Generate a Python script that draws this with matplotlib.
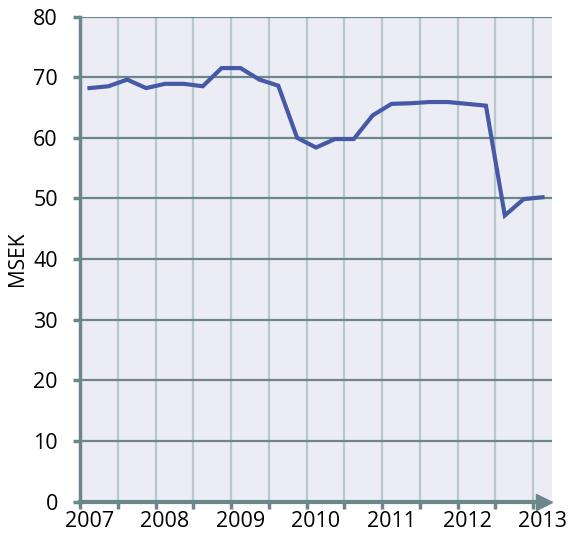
import matplotlib.pyplot as plt

# quarterly values, 2007 Q1 .. 2013 Q1
msek = [68.2, 68.5, 69.6, 68.2, 68.9, 68.9, 68.5, 71.5, 71.5, 69.6,
        68.6, 60.0, 58.4, 59.8, 59.8, 63.7, 65.6, 65.7, 65.9, 65.9,
        65.6, 65.3, 47.2, 49.9, 50.2]
years = ['2007', '2008', '2009', '2010', '2011', '2012', '2013']
yticks = [0, 10, 20, 30, 40, 50, 60, 70, 80]

axis_col = '#6b878b'
vgrid_col = '#b9c8cc'
line_col = '#4659a5'
bg_col = '#ececf5'

plt.rcParams['font.family'] = ['Open Sans', 'DejaVu Sans']

fig = plt.figure(figsize=(5.74, 5.4), dpi=100)
ax = fig.add_axes([0.1394, 0.0709, 0.8223, 0.8985])
ax.set_facecolor(bg_col)

x = [i + 0.5 for i in range(len(msek))]
ax.set_xlim(0, 25)
ax.set_ylim(0, 80)

for q in range(2, 26, 2):
    ax.axvline(q, color=vgrid_col, lw=1.6, zorder=1)
for v in yticks[1:]:
    ax.axhline(v, color=axis_col, lw=1.6, zorder=2)

ax.plot(x, msek, color=line_col, lw=3, zorder=3, solid_joinstyle='miter')

for s in ['top', 'right']:
    ax.spines[s].set_visible(False)
ax.spines['left'].set_color(axis_col)
ax.spines['left'].set_linewidth(2.5)
ax.spines['bottom'].set_color(axis_col)
ax.spines['bottom'].set_linewidth(3)
ax.spines['bottom'].set_bounds(0, 24.6)
ax.plot(24.55, 0, marker='>', ms=12, color=axis_col, clip_on=False, zorder=5)

ax.set_yticks(yticks)
ax.tick_params(axis='y', length=5, width=2.5, color=axis_col, pad=11, labelsize=15.5)
ax.set_xticks(range(0, 26, 2))
ax.set_xticklabels([])
ax.tick_params(axis='x', which='major', length=5, width=2.5, color=axis_col)
ax.set_xticks([4 * k + 0.5 for k in range(len(years))], minor=True)
ax.set_xticklabels(years, minor=True)
ax.tick_params(axis='x', which='minor', length=0, pad=7, labelsize=15.5)

ax.set_ylabel('MSEK', fontsize=15, labelpad=0)
ax.yaxis.set_label_coords(-0.11, 0.5)

fig.savefig('out.png', dpi=100)
